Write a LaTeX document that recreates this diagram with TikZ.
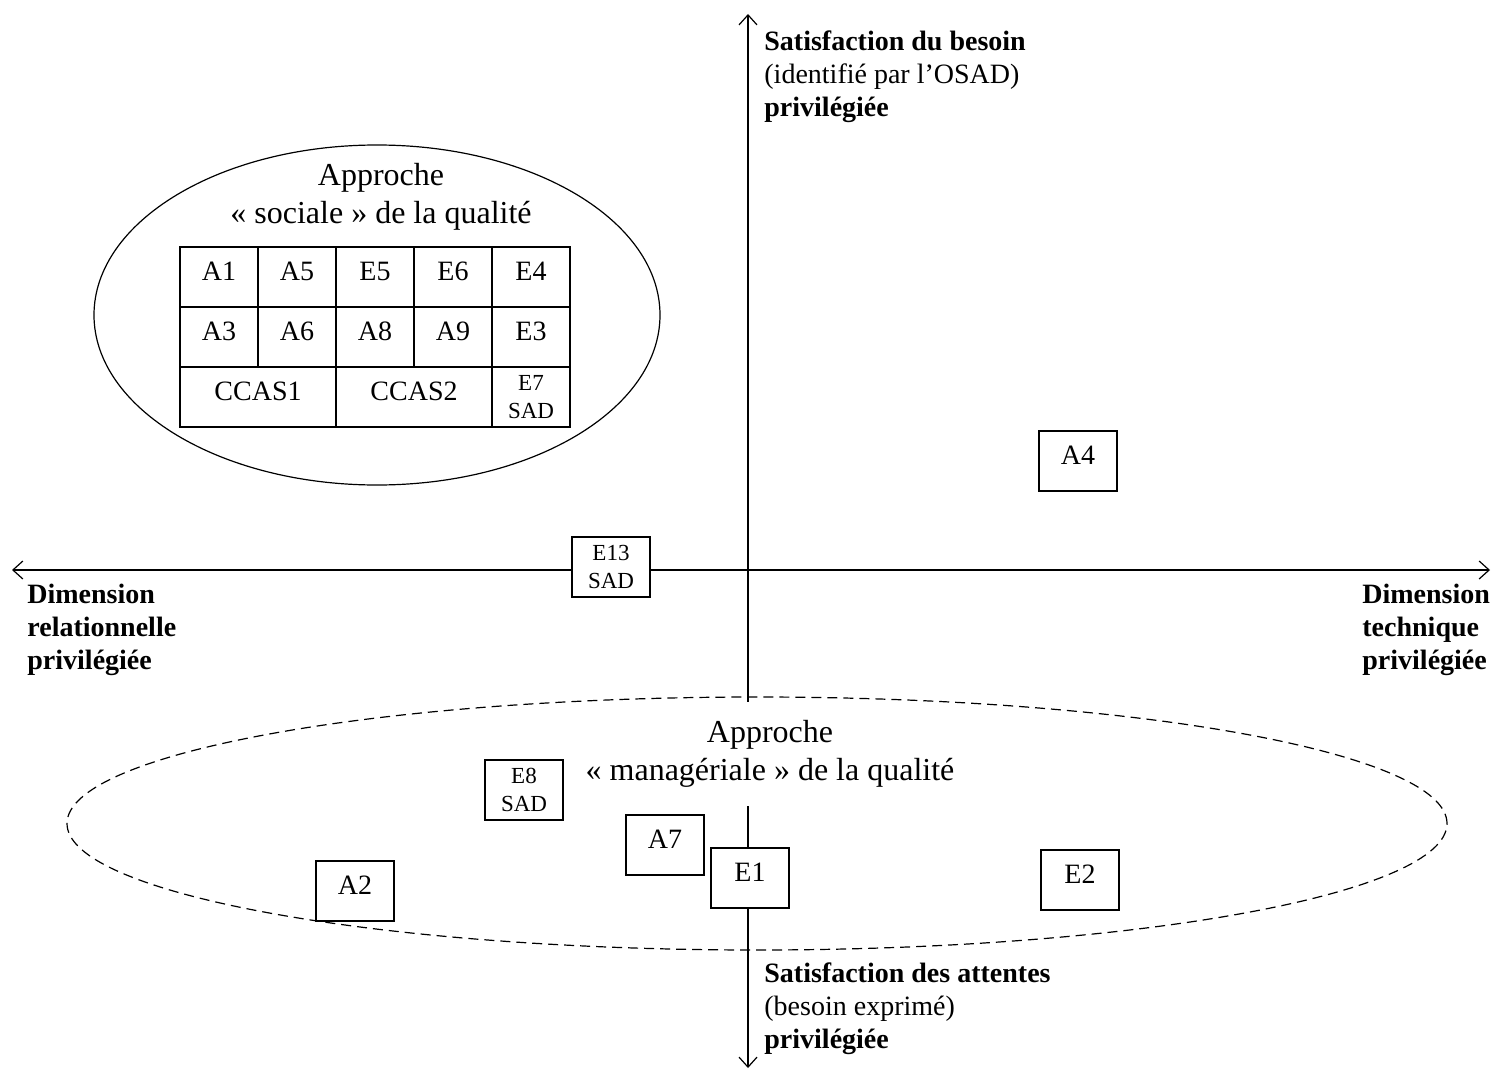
\documentclass[tikz,border=0pt]{standalone}
\usepackage{fontspec}
\setmainfont{Liberation Serif}
\usetikzlibrary{arrows.meta}

\begin{document}
\begin{tikzpicture}[x=0.5pt,y=-0.5pt,
    axis/.style={semithick,{Straight Barb[length=5pt,width=9pt]}-{Straight Barb[length=5pt,width=9pt]}},
    cell/.style={draw,semithick,fill=white,inner sep=0pt,minimum width=39pt,minimum height=30pt,
        font=\fontsize{14}{16}\selectfont,text depth=6pt},
    smallcell/.style={cell,font=\fontsize{11.5}{14}\selectfont,text depth={},align=center},
    approche/.style={align=center,font=\fontsize{16}{19}\selectfont},
    legend/.style={align=left,anchor=north west,inner sep=0pt,font=\fontsize{14}{16.5}\selectfont\bfseries}
]
\useasboundingbox (0,0) rectangle (1492,1070);
\coordinate (west) at (12,570);
\coordinate (east) at (1490,570);
\coordinate (north) at (748,14);
\coordinate (south) at (748,1068);
\draw[axis] (west) -- (east);
\draw[axis] (south) -- (north);

\draw[semithick] (377,315) ellipse [x radius=141.5pt,y radius=85pt];
\node[approche] (socialtitle) at (381,197) {Approche\\« sociale » de la qualité};
\foreach \name/\col/\row in {A1/0/0,A5/1/0,E5/2/0,E6/3/0,E4/4/0,A3/0/1,A6/1/1,A8/2/1,A9/3/1,E3/4/1}
    \node[cell] (\name) at (219+78*\col,277+60*\row) {\name};
\node[cell,minimum width=78pt] (CCAS1) at (258,397) {CCAS1};
\node[cell,minimum width=78pt] (CCAS2) at (414,397) {CCAS2};
\node[smallcell] (E7) at (531,397) {E7\\SAD};

\node[approche,fill=white,minimum height=52pt] (managetitle) at (770,754) {Approche\\« managériale » de la qualité};
\draw[semithick,dash pattern=on 5pt off 3pt] (757,823.5) ellipse [x radius=345pt,y radius=63.25pt];

\node[cell] (A4) at (1078,461) {A4};
\node[smallcell] (E13) at (611,567) {E13\\SAD};
\node[smallcell] (E8) at (524,790) {E8\\SAD};
\node[cell] (A7) at (665,845) {A7};
\node[cell] (E1) at (750,878) {E1};
\node[cell] (A2) at (355,891) {A2};
\node[cell] (E2) at (1080,880) {E2};

\node[legend] (besoin) at (764,30) {Satisfaction du besoin\\\mdseries(identifié par l’OSAD)\\privilégiée};
\node[legend] (relation) at (27,584) {Dimension\\relationnelle\\privilégiée};
\node[legend] (technique) at (1362,584) {Dimension\\technique\\privilégiée};
\node[legend] (attentes) at (764,962) {Satisfaction des attentes\\\mdseries(besoin exprimé)\\privilégiée};
\end{tikzpicture}
\end{document}
